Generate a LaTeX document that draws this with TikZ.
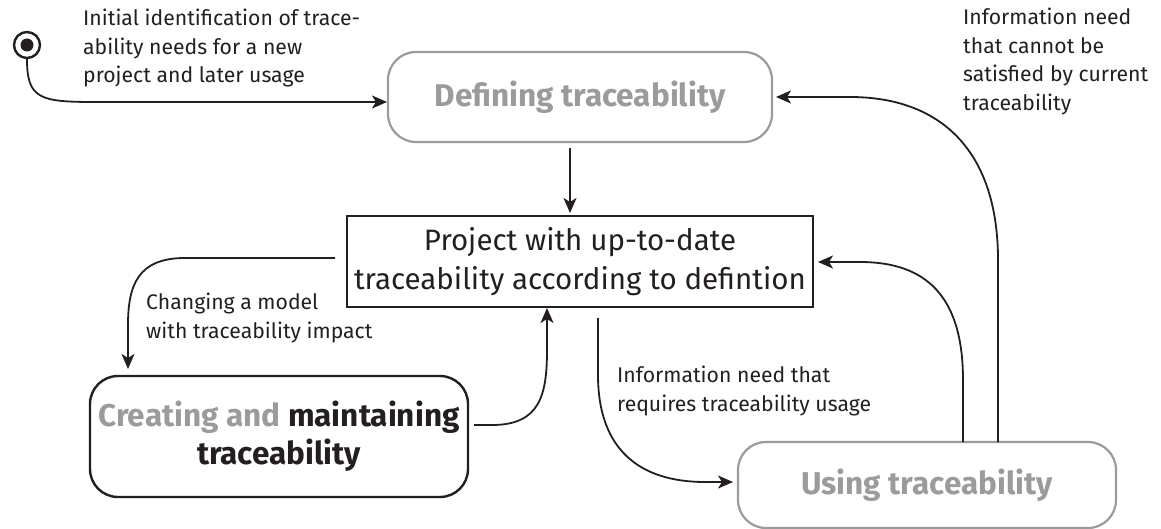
\documentclass[tikz,border=0pt]{standalone}
\usepackage{fontspec}
\setmainfont{Fira Sans}
\usetikzlibrary{arrows.meta}
\definecolor{ink}{HTML}{231F20}
\definecolor{soft}{HTML}{9B9B9B}
\tikzset{
  phase/.style={draw=soft, line width=2.2pt, rounded corners=28pt, align=center,
    font=\fontsize{31.5}{38}\selectfont\bfseries, text=soft, inner sep=0pt},
  statebox/.style={draw=ink, line width=2.6pt, align=center,
    font=\fontsize{29.5}{39}\selectfont, text=ink, inner sep=0pt},
  note/.style={align=left, anchor=north west, inner sep=0pt, text=ink,
    font=\fontsize{21.2}{28.5}\selectfont},
  flow/.style={draw=ink, line width=1.8pt, -{Stealth[length=15pt,width=13pt,inset=4pt]}},
}
\begin{document}
\begin{tikzpicture}[x=1pt,y=-1pt]
\useasboundingbox (0,0) rectangle (1161,529);

% phases and the central state
\node[phase, minimum width=384pt, minimum height=90pt] (define) at (580,97) {Defining traceability};
\node[statebox, minimum width=466pt, minimum height=91pt] (project) at (580,261.5)
  {Project with up-to-date\\traceability according to defintion};
\node[phase, draw=ink, line width=2.4pt, minimum width=378pt, minimum height=121pt] (create) at (279,436.5)
  {\textcolor{soft}{Creating and} \textcolor{ink}{maintaining}\\\textcolor{ink}{traceability}};
\node[phase, minimum width=378pt, minimum height=86pt] (use) at (927,485) {Using traceability};

% initial state
\node[circle, draw=ink, line width=2.4pt, minimum size=26pt, inner sep=0pt] (start) at (27,45) {};
\fill[ink] (start.center) circle (6.5pt);

% anchor points of the connectors
\coordinate (s1) at (27,59);
\coordinate (e1) at (387,102);
\coordinate (s2) at (570,148);
\coordinate (e2) at (570,213);
\coordinate (s3) at (335,258);
\coordinate (e3) at (128,369);
\coordinate (s4) at (474,425);
\coordinate (e4) at (547,308);
\coordinate (s5) at (598,318);
\coordinate (e5) at (733,482);
\coordinate (s6) at (963,442);
\coordinate (e6) at (818,262);
\coordinate (s7) at (998,442);
\coordinate (e7) at (776,97);

\draw[flow] (s1) .. controls (27,99) and (40,102) .. (95,102) -- (e1);
\draw[flow] (s2) -- (e2);
\draw[flow] (s3) -- (185,258) .. controls (138,258) and (128,285) .. (128,325) -- (e3);
\draw[flow] (s4) -- (492,425) .. controls (540,425) and (547,395) .. (547,350) -- (e4);
\draw[flow] (s5) -- (598,375) .. controls (598,450) and (640,482) .. (705,482) -- (e5);
\draw[flow] (s6) -- (963,380) .. controls (963,295) and (925,262) .. (860,262) -- (e6);
\draw[flow] (s7) -- (998,260) .. controls (998,150) and (940,97) .. (850,97) -- (e7);

% transition labels
\node[note] (l1) at (83,9) {Initial identification of trace-\\ability needs for a new\\project and later usage};
\node[note] (l2) at (963,8) {Information need\\that cannot be\\satisfied by current\\traceability};
\node[note] (l3) at (146,293) {Changing a model\\with traceability impact};
\node[note] (l4) at (617,366) {Information need that\\requires traceability usage};
\end{tikzpicture}
\end{document}
